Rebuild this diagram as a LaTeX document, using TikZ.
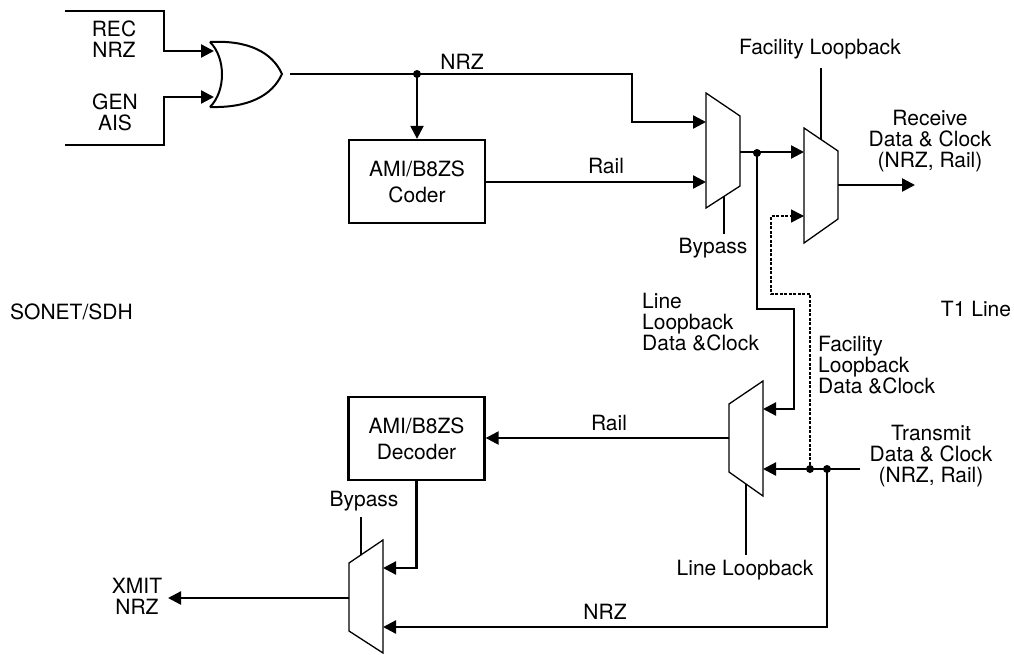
\documentclass[tikz,border=0pt]{standalone}
\usepackage{fontspec}
\setmainfont{TeX Gyre Heros}
\usetikzlibrary{arrows.meta}
\begin{document}
\begin{tikzpicture}[x=1pt,y=-1pt,
  wire/.style={line width=2.3pt},
  arr/.style={wire,-{Triangle[length=13pt,width=13pt]}},
  muxshape/.style={line width=1.3pt, fill=white},
  lbl/.style={inner sep=0pt, align=center, font=\fontsize{21}{21}\selectfont},
  lbll/.style={lbl, align=left, anchor=west},
  blk/.style={draw, line width=2.3pt, minimum width=136pt, minimum height=83pt, inner sep=0pt, align=center, font=\fontsize{21}{26}\selectfont},
  jdot/.style={circle, fill, inner sep=0pt, minimum size=8pt},
  dashwire/.style={line width=1.5pt, dash pattern=on 3pt off 1.5pt},
  gate/.style={line width=2pt}
]
\useasboundingbox (0,0) rectangle (1014,654);

% ---------- blocks ----------
\node[blk] (coder) at (417,181.5) {AMI/B8ZS\\Coder};
\node[blk] (decoder) at (416.5,438.5) {AMI/B8ZS\\Decoder};

% ---------- OR gate ----------
\draw[gate] (210,42) .. controls (226,58) and (226,91) .. (210,107);
\draw[gate] (210,42) .. controls (248,40) and (272,52) .. (282,74)
            .. controls (272,96) and (248,108) .. (210,107);
\coordinate (orin1) at (214,51);
\coordinate (orin2) at (214,97);
\coordinate (orout) at (290,74);

% ---------- muxes ----------
\draw[muxshape] (706,93) -- (740,116) -- (740,186) -- (706,208) -- cycle;
\draw[muxshape] (804,128) -- (838,151) -- (838,219) -- (804,243) -- cycle;
\draw[muxshape] (763,381) -- (763,496) -- (729,472) -- (729,404) -- cycle;
\draw[muxshape] (383,540) -- (383,653) -- (349,631) -- (349,563) -- cycle;

\coordinate (m1a) at (706,122);
\coordinate (m1b) at (706,182);
\coordinate (m1o) at (740,152);
\coordinate (m1c) at (724,196.4);
\coordinate (m2a) at (804,152);
\coordinate (m2b) at (804,216);
\coordinate (m2o) at (838,185);
\coordinate (m2c) at (821,139.5);
\coordinate (m3a) at (763,409);
\coordinate (m3b) at (763,469);
\coordinate (m3o) at (729,438);
\coordinate (m3c) at (746,484);
\coordinate (m4a) at (383,568);
\coordinate (m4b) at (383,627);
\coordinate (m4o) at (349,598);
\coordinate (m4c) at (361,555);

% ---------- free ends ----------
\coordinate (recL) at (65,11);
\coordinate (genL) at (65,145);
\coordinate (rxout) at (915,185);
\coordinate (txin) at (860,469);
\coordinate (xmit) at (168,598);
\coordinate (fltop) at (821,68);
\coordinate (bp1end) at (724,234);
\coordinate (llend) at (746,555);
\coordinate (bp2top) at (361,517);

% ---------- junctions ----------
\node[jdot] (j1) at (417,74) {};
\node[jdot] (j2) at (757,153) {};
\node[jdot] (j3) at (810,469) {};
\node[jdot] (j4) at (827,469) {};

% ---------- wires ----------
\draw[arr] (recL) -- ++(99,0) |- (orin1);
\draw[arr] (genL) -- ++(99,0) |- (orin2);
\draw[wire] (orout) -- (j1.center);
\draw[arr] (j1.center) -- ++(215,0) |- (m1a);
\draw[arr] (j1.center) -- (coder.north);
\draw[arr] (coder.east |- m1b) -- (m1b);
\draw[arr] (m1o) -- (m2a);
\draw[arr] (j2.center) -- ++(0,156) -| ++(37,0) |- (m3a);
\draw[dashwire, -{Triangle[length=13pt,width=13pt]}] (j3.center) -- ++(0,-175) -| ++(-39,0) |- (m2b);
\draw[arr] (m2o) -- (rxout);
\draw[arr] (txin) -- (m3b);
\draw[arr] (j4.center) |- (m4b);
\draw[arr] (m3o) -- (decoder.east |- m3o);
\draw[arr] (decoder.south) |- (m4a);
\draw[arr] (m4o) -- (xmit);

% control lines
\draw[wire] (fltop) -- (m2c);
\draw[wire] (m1c) -- (bp1end);
\draw[wire] (m3c) -- (llend);
\draw[wire] (bp2top) -- (m4c);

% ---------- labels ----------
\node[lbl] (lrec) at (114,39.5) {REC\\NRZ};
\node[lbl] (lgen) at (115,112) {GEN\\AIS};
\node[lbl] (lnrz1) at (462,62) {NRZ};
\node[lbl] (lrail1) at (606,166) {Rail};
\node[lbl] (lfl) at (820,49) {Facility Loopback};
\node[lbl] (lrx) at (930,141.5) {Receive\\Data \& Clock\\(NRZ, Rail)};
\node[lbl] (lbp1) at (713,248) {Bypass};
\node[lbl, anchor=west] (lsonet) at (10,312) {SONET/SDH};
\node[lbl] (lt1) at (976,309) {T1 Line};
\node[lbll] (lld) at (642,322) {Line\\Loopback\\Data \&Clock};
\node[lbll] (lfld) at (818,365) {Facility\\Loopback\\Data \&Clock};
\node[lbl] (lrail2) at (609,423) {Rail};
\node[lbl] (ltx) at (931,456) {Transmit\\Data \& Clock\\(NRZ, Rail)};
\node[lbl] (lbp2) at (364,501) {Bypass};
\node[lbl] (lll) at (745,570) {Line Loopback};
\node[lbl] (lnrz2) at (605,612) {NRZ};
\node[lbl] (lxmit) at (137,596) {XMIT\\NRZ};
\end{tikzpicture}
\end{document}
